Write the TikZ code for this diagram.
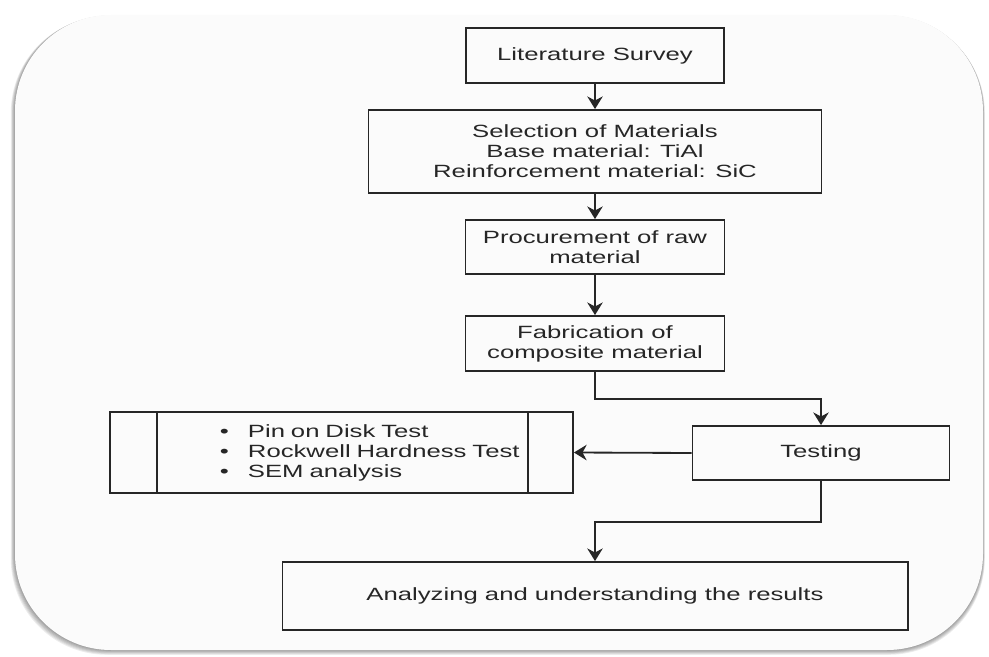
\documentclass[tikz,border=0pt]{standalone}
\usepackage{fontspec}
\setmainfont{Liberation Sans}[FakeStretch=1.45]
\usetikzlibrary{arrows.meta}

\begin{document}
\begin{tikzpicture}[x=0.025cm, y=-0.025cm, line width=1.3pt, color=black!85,
	>={Stealth[length=9pt,width=11pt]},
	main/.style = {draw, rectangle, inner sep=0pt, align=center, text=black!85, font=\fontsize{12.6}{14.2}\selectfont}]
	\useasboundingbox (0,0) rectangle (989,657);
	\foreach \k in {1,...,6}
		\fill[black, opacity=0.07, rounded corners=2.4cm] (15-0.7*\k,15+0.3*\k) rectangle (983+0.3*\k,650+0.8*\k);
	\fill[white!98.5!black, rounded corners=2.4cm] (15,15) rectangle (983,650);
	\node[main, minimum width=6.45cm, minimum height=1.375cm] (lit) at (595,55.5) {Literature Survey};
	\node[main, minimum width=11.325cm, minimum height=2.075cm] (sel) at (595,151.5) {Selection of Materials\\Base material: TiAl\\Reinforcement material: SiC};
	\draw[->] (lit.south) -- (sel.north);
	\node[main, minimum width=6.475cm, minimum height=1.35cm] (proc) at (595,247) {Procurement of raw\\material};
	\draw[->] (sel.south) -- (proc.north);
	\node[main, minimum width=6.475cm, minimum height=1.375cm] (fab) at (595,343.5) {Fabrication of\\composite material};
	\draw[->] (proc.south) -- (fab.north);
	\node[main, minimum width=6.425cm, minimum height=1.35cm] (test) at (821,453) {Testing};
	\draw[->] (fab.south) -- ++(0,27) -| (test.north);
	\node[main, minimum width=11.575cm, minimum height=2.025cm, text width=11.575cm, align=left] (list) at (341.5,452.5)
		{\hspace*{2.75cm}\makebox[0.7cm][l]{\textbullet}Pin on Disk Test\\
		 \hspace*{2.75cm}\makebox[0.7cm][l]{\textbullet}Rockwell Hardness Test\\
		 \hspace*{2.75cm}\makebox[0.7cm][l]{\textbullet}SEM analysis};
	\draw ([xshift=1.2cm]list.north west) -- ([xshift=1.2cm]list.south west);
	\draw ([xshift=-1.15cm]list.north east) -- ([xshift=-1.15cm]list.south east);
	\draw[->] (test.west) -- (list.east);
	\node[main, minimum width=15.625cm, minimum height=1.7cm] (res) at (595,596) {Analyzing and understanding the results};
	\draw[->] (test.south) -- ++(0,41) -| (res.north);
\end{tikzpicture}
\end{document}
